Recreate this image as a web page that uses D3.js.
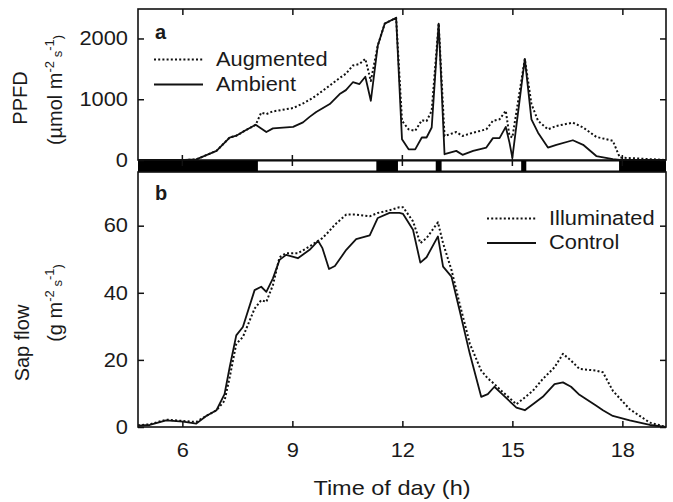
<!DOCTYPE html>
<html>
<head>
<meta charset="utf-8">
<script src="https://cdn.jsdelivr.net/npm/d3@7/dist/d3.min.js"></script>
<style>
    body { margin: 0; background: #fff; }
    svg { display: block; }
    text { font-family: "Liberation Sans", Arial, sans-serif; fill: #1a1a1a; }
    .tick text { font-size: 19.5px; font-family: "Liberation Sans", Arial, sans-serif; fill: #1a1a1a; }
    .tick line { stroke: #111; stroke-width: 1.5; }
    .lbl { font-size: 20px; }
    .leg { font-size: 19.5px; }
    /* the scanned figure is a bit wider than tall */
    .sx { transform-box: fill-box; transform: scaleX(1.12); }
    .oR { transform-origin: right center; }
    .oL { transform-origin: left center; }
    .oC { transform-origin: center center; }
</style>
</head>
<body>
<svg id="chart" width="673" height="502"></svg>
<script>
// panel a: PPFD, ambient light and light with lamps
const ppfdTime = [4.79, 6.06, 6.38, 6.93, 7.29, 7.47, 7.70, 8.0, 8.15, 8.29, 8.47, 9.02, 9.29, 9.47, 9.65, 10.02,
    10.29, 10.46, 10.65, 10.83, 10.99, 11.14, 11.33, 11.52, 11.83, 11.99, 12.17, 12.35, 12.53, 12.66, 12.8, 12.99,
    13.15, 13.47, 13.64, 13.93, 14.29, 14.47, 14.65, 14.82, 14.92, 15.0, 15.34, 15.52, 15.70, 15.97, 16.2, 16.65,
    16.93, 17.29, 17.74, 17.93, 19.19];
const ambient = [0, 0, 10, 150, 370, 400, 480, 580, 520, 460, 520, 545, 620, 710, 790, 920,
    1085, 1150, 1280, 1250, 1370, 975, 1885, 2245, 2340, 340, 175, 175, 370, 370, 535, 2245,
    95, 150, 85, 150, 205, 360, 360, 545, 290, 40, 1665, 670, 450, 205, 250, 325,
    250, 65, 15, 0, 0];
const augmented = [0, 0, 10, 150, 370, 400, 480, 580, 780, 755, 800, 855, 930, 990, 1060, 1225,
    1350, 1420, 1555, 1580, 1665, 1300, 1885, 2245, 2340, 645, 505, 480, 655, 640, 810, 2245,
    395, 460, 395, 450, 505, 645, 670, 810, 400, 370, 1665, 920, 645, 505, 560, 615,
    535, 380, 315, 40, 0];
// lamps on (white boxes in the strip)
const lampOn = [[8.06, 11.29], [11.88, 12.91], [13.07, 15.24], [15.38, 17.91]];

// panel b: sap flow
const sapTime = [4.79, 5.11, 5.56, 6.02, 6.38, 6.65, 6.93, 7.15, 7.29, 7.47, 7.65, 7.97, 8.15, 8.29, 8.47, 8.65,
    8.83, 9.15, 9.47, 9.70, 9.82, 10.0, 10.16, 10.47, 10.74, 11.11, 11.33, 11.65, 11.92, 12.02, 12.29, 12.49,
    12.66, 12.97, 13.11, 13.34, 13.56, 13.84, 14.15, 14.33, 14.51, 14.70, 15.11, 15.34, 15.56, 15.83, 16.15, 16.38,
    16.60, 16.83, 17.29, 17.47, 17.74, 18.20, 18.75, 19.19];
const control = [0.4, 0.6, 2.0, 1.6, 1.0, 3.3, 5, 9.8, 17.8, 27.3, 29.8, 40.8, 41.8, 40.3, 44.3, 49.8,
    51.3, 50.3, 52.8, 55.5, 53.3, 47.1, 48, 52.8, 56, 57.1, 62.3, 63.8, 63.8, 63.5, 58.8, 49,
    50.6, 56.8, 47.8, 44.8, 34.8, 21.8, 9, 9.8, 12, 10, 5.8, 5, 6.8, 9, 12.8, 13.3,
    12, 9.6, 6.3, 5, 3.3, 2, 0.6, 0];
const illuminated = [0.5, 0.8, 2.2, 1.8, 1.5, 3.3, 5, 7.8, 14.8, 24.8, 26.8, 35.3, 37.8, 37.3, 42.3, 50.6,
    51.8, 51.8, 53.8, 55.5, 56.3, 58.3, 60.3, 63.3, 63.3, 62.8, 63.8, 64.6, 65.5, 65.5, 61.3, 54.8,
    56.3, 61, 54.8, 46.8, 36.8, 24.8, 16.8, 14.5, 12.8, 10.8, 6.8, 8.8, 10.8, 14.3, 17.8, 21.8,
    19.8, 17.3, 16.8, 16.3, 10.8, 5.3, 1.3, 0];

const xTicks = [6, 9, 12, 15, 18];
const ppfdTicks = [0, 1000, 2000];
const sapTicks = [0, 20, 40, 60];

let svg = d3.select('#chart');
let left = 138, right = 666;
let aTop = 9, aBot = 160, bTop = 172, bBot = 427;

let x = d3.scaleLinear().domain([4.79, 19.19]).range([left, right]);
let yA = d3.scaleLinear().domain([0, 2485]).range([aBot, aTop]);
let yB = d3.scaleLinear().domain([0, 76]).range([bBot, bTop]);

svg.append('defs').selectAll('clipPath')
    .data([['clipA', aTop, aBot], ['clipB', bTop, bBot]])
    .enter().append('clipPath').attr('id', d => d[0])
    .append('rect')
    .attr('x', left).attr('y', d => d[1])
    .attr('width', right - left).attr('height', d => d[2] - d[1]);

// 灯光条: black by default, white where lamps on
svg.append('rect')
    .attr('x', left).attr('y', aBot)
    .attr('width', right - left).attr('height', bTop - aBot)
    .attr('fill', '#000');
svg.selectAll('rect.on')
    .data(lampOn)
    .enter().append('rect')
    .attr('class', 'on')
    .attr('x', d => x(d[0])).attr('y', aBot + 1.5)
    .attr('width', d => x(d[1]) - x(d[0])).attr('height', bTop - aBot - 3)
    .attr('fill', '#fff');

// ticks over the strip (bottom of panel a)
svg.selectAll('line.stripTick')
    .data(xTicks)
    .enter().append('line')
    .attr('x1', d => x(d)).attr('x2', d => x(d))
    .attr('y1', aBot - 5).attr('y2', aBot + 6)
    .attr('stroke', '#111').attr('stroke-width', 1.5);

// axes, inward ticks
const addAxis = function(axis, tx, ty, origin) {
    let g = svg.append('g').attr('transform', 'translate(' + tx + ',' + ty + ')').call(axis);
    g.select('.domain').remove();
    if (origin) g.selectAll('.tick text').attr('class', 'sx ' + origin);
    return g;
};
let fmt = d3.format('d');
addAxis(d3.axisLeft(yA).tickValues(ppfdTicks).tickSize(-6).tickPadding(10).tickFormat(fmt), left, 0, 'oR');
addAxis(d3.axisRight(yA).tickValues(ppfdTicks).tickSize(-6).tickFormat(''), right, 0);
addAxis(d3.axisTop(x).tickValues(xTicks).tickSize(-6).tickFormat(''), 0, aTop);
addAxis(d3.axisLeft(yB).tickValues(sapTicks).tickSize(-6).tickPadding(10).tickFormat(fmt), left, 0, 'oR');
addAxis(d3.axisRight(yB).tickValues(sapTicks).tickSize(-6).tickFormat(''), right, 0);
addAxis(d3.axisBottom(x).tickValues(xTicks).tickSize(-6).tickPadding(16).tickFormat(fmt), 0, bBot, 'oC');

// frames
svg.selectAll('rect.frame')
    .data([[aTop, aBot], [bTop, bBot]])
    .enter().append('rect')
    .attr('x', left).attr('y', d => d[0])
    .attr('width', right - left).attr('height', d => d[1] - d[0])
    .attr('fill', 'none').attr('stroke', '#111').attr('stroke-width', 1.6);

// series lines
const drawLine = function(times, vals, y, clip, dotted) {
    let line = d3.line().x((d, i) => x(times[i])).y(d => y(d));
    svg.append('path')
        .datum(vals)
        .attr('clip-path', 'url(#' + clip + ')')
        .attr('fill', 'none')
        .attr('stroke', '#111')
        .attr('stroke-width', dotted ? 2 : 1.8)
        .attr('stroke-linejoin', 'round')
        .attr('stroke-dasharray', dotted ? '2,2.2' : null)
        .attr('d', line);
};
drawLine(ppfdTime, augmented, yA, 'clipA', true);
drawLine(ppfdTime, ambient, yA, 'clipA', false);
drawLine(sapTime, illuminated, yB, 'clipB', true);
drawLine(sapTime, control, yB, 'clipB', false);

// legends
const legend = function(items, lx, ly, gap) {
    items.forEach(function(it, i) {
        let yy = ly + i * gap;
        svg.append('line')
            .attr('x1', lx).attr('x2', lx + 49)
            .attr('y1', yy).attr('y2', yy)
            .attr('stroke', '#111').attr('stroke-width', it[1] ? 2 : 1.8)
            .attr('stroke-dasharray', it[1] ? '2,2.2' : null);
        svg.append('text').attr('class', 'leg sx oL')
            .attr('x', lx + 62).attr('y', yy + 6.5)
            .text(it[0]);
    });
};
legend([['Augmented', true], ['Ambient', false]], 154, 59.5, 25);
legend([['Illuminated', true], ['Control', false]], 487, 218.5, 24.5);

// panel letters
svg.append('text').attr('x', 155).attr('y', 38.5)
    .attr('font-size', 20).attr('font-weight', 'bold').attr('fill', '#111').text('a');
svg.append('text').attr('x', 155).attr('y', 199.5)
    .attr('font-size', 20).attr('font-weight', 'bold').attr('fill', '#111').text('b');

// axis titles
svg.append('text').attr('class', 'lbl sx oC')
    .attr('x', 392).attr('y', 495).attr('text-anchor', 'middle')
    .attr('font-size', 21)
    .style('font-size', '21px')
    .text('Time of day (h)');

const vText = function(cx, cy, parts) {
    let t = svg.append('text').attr('class', 'lbl')
        .attr('transform', 'translate(' + cx + ',' + cy + ') rotate(-90)')
        .attr('text-anchor', 'middle');
    parts.forEach(function(p) {
        let s = t.append('tspan').text(p[0]);
        if (p[1]) s.attr('font-size', 13).attr('dy', p[1]);
    });
};
vText(27, 98, [['PPFD']]);
vText(61.5, 90, [['(µmol m'], ['-2', -8], [' s', 8], ['-1', -8], [')', 8]]);
vText(29, 343, [['Sap flow']]);
vText(61.5, 303, [['(g m'], ['-2', -8], [' s', 8], ['-1', -8], [')', 8]]);
</script>
</body>
</html>
